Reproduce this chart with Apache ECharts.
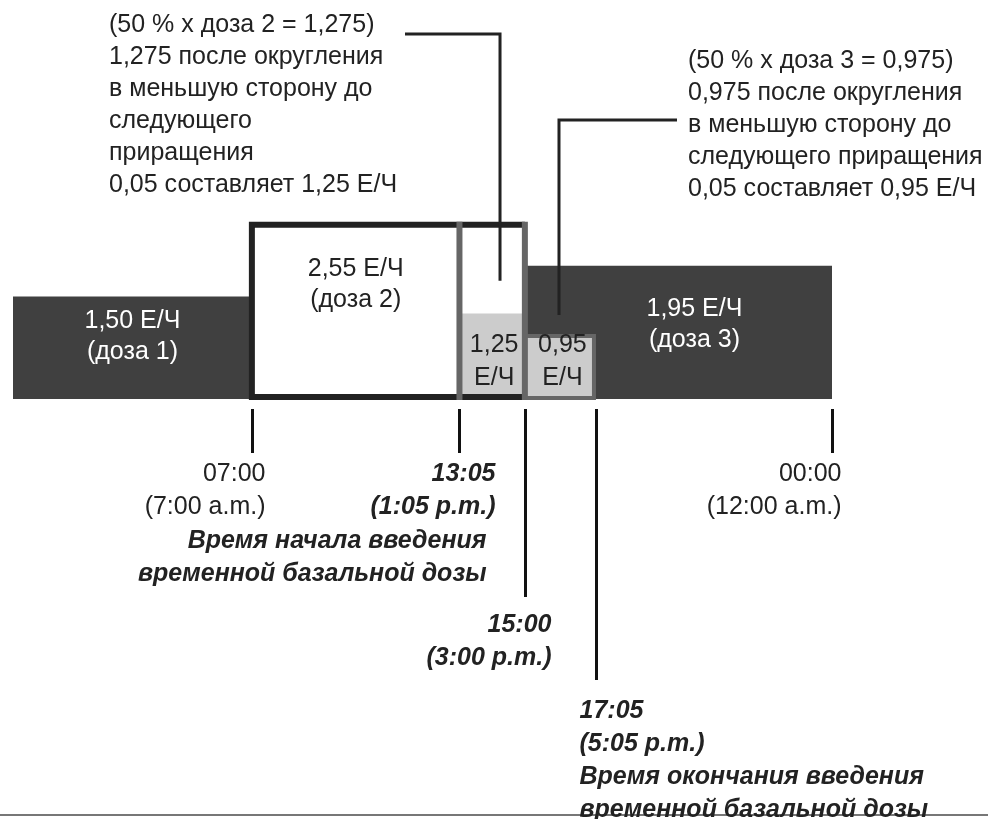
<!DOCTYPE html>
<html><head><meta charset="utf-8">
<script src="https://cdn.jsdelivr.net/npm/echarts@6/dist/echarts.min.js"></script>
<style>html,body{margin:0;padding:0;background:#fff}#c{width:988px;height:819px}</style>
</head><body><div id="c"></div>
<script>
// ---------- DATA ----------
// scheduled basal segments (hours of the day, U/h)
const segStart = [0, 7, 15];
const segEnd   = [7, 15, 24];
const segRate  = [1.50, 2.55, 1.95];
const segLabel = ['1,50 Е/Ч\n(доза 1)', '2,55 Е/Ч\n(доза 2)', '1,95 Е/Ч\n(доза 3)'];
// temporary basal (50 %), split at the segment boundary
const tempStart = [13.083, 15];
const tempEnd   = [15, 17.083];
const tempRate  = [1.25, 0.95];
const tempLabel = ['1,25\nЕ/Ч', '0,95\nЕ/Ч'];
// time markers
const tickTimes  = [7, 13.083, 15, 17.083, 24];
const tickLabels = ['07:00\n(7:00 a.m.)', '13:05\n(1:05 p.m.)', '15:00\n(3:00 p.m.)', '17:05\n(5:05 p.m.)', '00:00\n(12:00 a.m.)'];
const tickCaptions = ['', 'Время начала введения\nвременной базальной дозы', '', 'Время окончания введения\nвременной базальной дозы', ''];
// callouts
const noteLeft = ['(50 % х доза 2 = 1,275)', '1,275 после округления', 'в меньшую сторону до', 'следующего', 'приращения', '0,05 составляет 1,25 Е/Ч'];
const noteRight = ['(50 % х доза 3 = 0,975)', '0,975 после округления', 'в меньшую сторону до', 'следующего приращения', '0,05 составляет 0,95 Е/Ч'];

// ---------- STYLE / LAYOUT ----------
const FONT = "'Liberation Sans', Arial, sans-serif";
const FS = 25;
const INK = '#222';
const DARK = '#404040';
const LIGHT = '#cccccc';
const GRAY = '#666';
const schedLabelDx = [0, 0, 16];
const schedLabelDy = [-62, -114, -74];
const tickLayout = [
  {len: 44,  dx: 13,  align: 'right', top: 458, bold: false},
  {len: 44,  dx: 36,  align: 'right', top: 458, bold: true, capDx: 27, capTop: 525},
  {len: 188, dx: 26,  align: 'right', top: 609, bold: true},
  {len: 271, dx: -17, align: 'left',  top: 695, bold: true, capDx: -17, capTop: 761},
  {len: 44,  dx: 9,   align: 'right', top: 458, bold: false}
];
const leaderLayout = [
  {fx: 0.62, fy: 0.37, ex: 405, ey: 34},
  {fx: 0.48, fy: 0.28, ex: 677, ey: 120}
];

const oi = segStart.findIndex((s, i) => s < tempStart[0] && segEnd[i] > tempStart[0]);
const schedData = segStart.map((s, i) => [s, segEnd[i], segRate[i]]);
const tempData = tempStart.map((s, i) => [s, tempEnd[i], tempRate[i]]);
const rateAt = t => segRate[segStart.findIndex((s, i) => s <= t && t < segEnd[i])];

const chart = echarts.init(document.getElementById('c'));
const txt = (extra) => Object.assign({fill: INK, fontSize: FS, fontFamily: FONT}, extra);

chart.setOption({
  animation: false,
  grid: {left: 13, top: 194, width: 819, height: 205},
  xAxis: {type: 'value', min: 0, max: 24, show: false},
  yAxis: {type: 'value', min: 0, max: 3, show: false},
  graphic: [
    {type: 'text', x: 109, y: 9, silent: true, style: txt({text: noteLeft.join('\n'), align: 'left', verticalAlign: 'top', lineHeight: 32})},
    {type: 'text', x: 688, y: 45, silent: true, style: txt({text: noteRight.join('\n'), align: 'left', verticalAlign: 'top', lineHeight: 32})},
    {type: 'line', silent: true, shape: {x1: 0, y1: 815, x2: 988, y2: 815}, style: {stroke: '#777', lineWidth: 2}}
  ],
  series: [
    { // scheduled basal segments
      type: 'custom', silent: true, data: schedData, encode: {x: [0, 1], y: 2},
      renderItem(params, api) {
        const i = params.dataIndex;
        const s = api.value(0), e = api.value(1), r = api.value(2);
        const bl = api.coord([s, 0]), tr = api.coord([e, r]);
        const outlined = i === oi;
        const visEnd = outlined ? tempStart[0] : e;
        const cx = (bl[0] + api.coord([visEnd, 0])[0]) / 2 + schedLabelDx[i];
        return {type: 'group', children: [
          {type: 'rect', shape: {x: bl[0], y: tr[1], width: tr[0] - bl[0], height: bl[1] - tr[1]}, style: {fill: outlined ? '#fff' : DARK}},
          {type: 'text', x: cx, y: bl[1] + schedLabelDy[i], style: txt({text: segLabel[i], fill: outlined ? INK : '#fff', align: 'center', verticalAlign: 'middle', lineHeight: 31})}
        ]};
      }
    },
    { // temporary basal
      type: 'custom', silent: true, data: tempData, encode: {x: [0, 1], y: 2},
      renderItem(params, api) {
        const i = params.dataIndex;
        const s = api.value(0), e = api.value(1), r = api.value(2);
        const bl = api.coord([s, 0]), tr = api.coord([e, r]);
        const inside = s >= segStart[oi] && e <= segEnd[oi];
        const rect = inside
          ? {type: 'rect', shape: {x: bl[0], y: tr[1], width: tr[0] - bl[0], height: bl[1] - tr[1]}, style: {fill: LIGHT}}
          : {type: 'rect', shape: {x: bl[0], y: tr[1] + 2, width: tr[0] - bl[0] - 2, height: bl[1] - tr[1] - 3}, style: {fill: LIGHT, stroke: GRAY, lineWidth: 4}};
        return {type: 'group', children: [
          rect,
          {type: 'text', x: (bl[0] + tr[0]) / 2 + 2, y: bl[1] - 37, style: txt({text: tempLabel[i], align: 'center', verticalAlign: 'middle', lineHeight: 33})}
        ]};
      }
    },
    { // outline of interrupted segment
      type: 'custom', silent: true, data: [schedData[oi]], encode: {x: [0, 1], y: 2},
      renderItem(params, api) {
        const s = api.value(0), e = api.value(1), r = api.value(2);
        const bl = api.coord([s, 0]), tr = api.coord([e, r]);
        return {type: 'polyline', shape: {points: [[tr[0], tr[1]], [bl[0], tr[1]], [bl[0], bl[1] - 2], [tr[0], bl[1] - 2]]},
          style: {stroke: INK, lineWidth: 6, fill: null, lineJoin: 'miter'}};
      }
    },
    { // gray boundaries inside the outlined segment
      type: 'custom', silent: true, data: [[tempStart[0], segRate[oi]], [segEnd[oi], segRate[oi]]], encode: {x: 0, y: 1},
      renderItem(params, api) {
        const p0 = api.coord([api.value(0), 0]), p1 = api.coord([api.value(0), api.value(1)]);
        return {type: 'line', shape: {x1: p0[0], y1: p0[1] + 1, x2: p1[0], y2: p1[1] - 3}, style: {stroke: GRAY, lineWidth: 6}};
      }
    },
    { // time markers
      type: 'custom', silent: true, data: tickTimes.map(t => [t, 0]), encode: {x: 0, y: 1},
      renderItem(params, api) {
        const i = params.dataIndex;
        const L = tickLayout[i];
        const p = api.coord([api.value(0), 0]);
        const x = Math.round(p[0]) + 0.5;
        const st = {fontWeight: L.bold ? 'bold' : 'normal', fontStyle: L.bold ? 'italic' : 'normal', lineHeight: 33, verticalAlign: 'top'};
        const kids = [
          {type: 'line', shape: {x1: x, y1: p[1] + 10, x2: x, y2: p[1] + 10 + L.len}, style: {stroke: '#111', lineWidth: 3}},
          {type: 'text', x: x + L.dx, y: L.top, style: txt(Object.assign({text: tickLabels[i], align: L.align}, st))}
        ];
        if (tickCaptions[i]) kids.push({type: 'text', x: x + L.capDx, y: L.capTop, style: txt(Object.assign({text: tickCaptions[i], align: L.align}, st))});
        return {type: 'group', children: kids};
      }
    },
    { // callout leaders
      type: 'custom', silent: true, data: tempData, encode: {x: [0, 1], y: 2},
      renderItem(params, api) {
        const i = params.dataIndex;
        const L = leaderLayout[i];
        const s = api.value(0), e = api.value(1), r = api.value(2);
        const full = rateAt(s);
        const p = api.coord([s + L.fx * (e - s), r + L.fy * (full - r)]);
        return {type: 'polyline', shape: {points: [[L.ex, L.ey], [p[0], L.ey], [p[0], p[1]]]}, style: {stroke: INK, lineWidth: 3, fill: null, lineJoin: 'miter'}};
      }
    }
  ]
});
</script>
</body></html>
